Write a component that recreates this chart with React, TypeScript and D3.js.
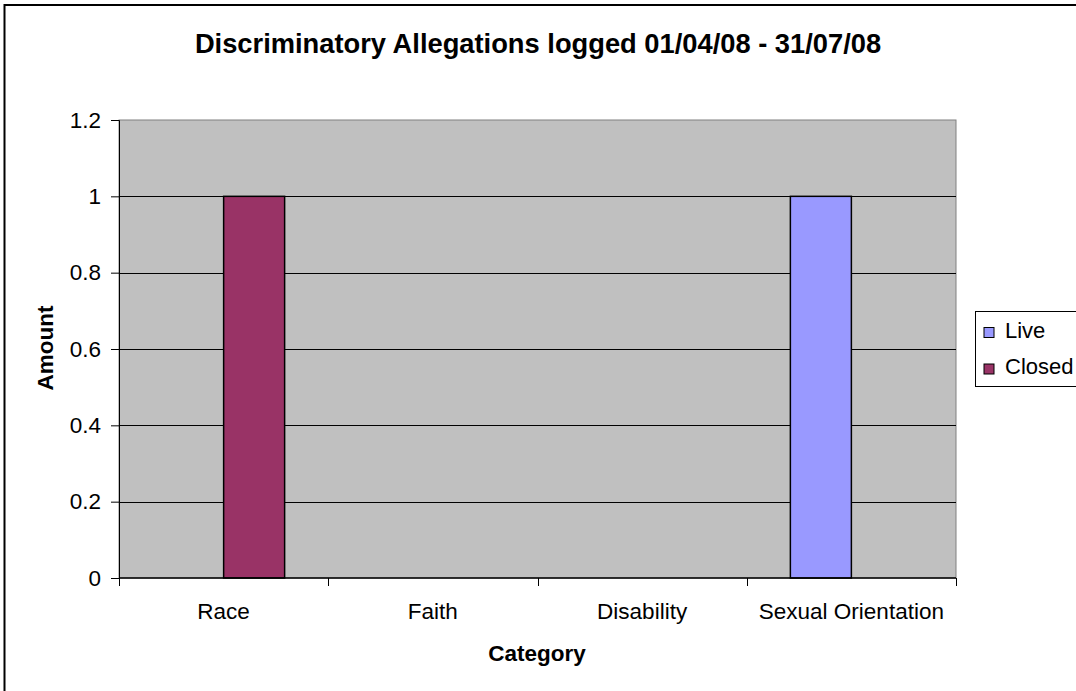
import React, { useEffect, useRef } from "react";
import * as d3 from "d3";

// chart data
const categories = ["Race", "Faith", "Disability", "Sexual Orientation"];
const seriesNames = ["Live", "Closed"];
const liveValues = [0, 0, 0, 1];
const closedValues = [1, 0, 0, 0];
const yTicks = [0, 0.2, 0.4, 0.6, 0.8, 1, 1.2];
const seriesColors = ["#9999FF", "#993366"];

const FONT = "'Liberation Sans', Arial, sans-serif";

const App: React.FC = () => {
  const svgRef = useRef<SVGSVGElement | null>(null);

  useEffect(() => {
    const width = 1076;
    const height = 691;
    const marginTop = 120;
    const marginBottom = 113;
    const marginLeft = 119;
    const marginRight = 120;

    const svg = d3.select(svgRef.current);
    svg.selectAll("*").remove();
    svg
      .attr("viewBox", [0, 0, width, height])
      .attr("width", width)
      .attr("height", height)
      .style("font-family", FONT);

    // outer chart border (continues past the crop)
    svg
      .append("rect")
      .attr("x", 4.5)
      .attr("y", 5)
      .attr("width", width + 20)
      .attr("height", height + 20)
      .attr("fill", "white")
      .attr("stroke", "black")
      .attr("stroke-width", 2);

    const x0 = d3
      .scaleBand()
      .domain(categories)
      .range([marginLeft, width - marginRight])
      .paddingInner(0)
      .paddingOuter(0);

    const x1 = d3
      .scaleBand()
      .domain(seriesNames)
      .range([0, x0.bandwidth()])
      .paddingInner(0)
      .paddingOuter(0.715);

    const y = d3
      .scaleLinear()
      .domain([0, 1.2])
      .range([height - marginBottom, marginTop]);

    // plot area
    svg
      .append("rect")
      .attr("x", marginLeft)
      .attr("y", y(1.2))
      .attr("width", width - marginRight - marginLeft)
      .attr("height", y(0) - y(1.2))
      .attr("fill", "#C0C0C0")
      .attr("stroke", "#808080")
      .attr("stroke-width", 1);

    // gridlines
    svg
      .append("g")
      .selectAll("line")
      .data(yTicks.filter((t) => t > 0 && t < 1.2))
      .enter()
      .append("line")
      .attr("x1", marginLeft)
      .attr("x2", width - marginRight)
      .attr("y1", (d) => Math.round(y(d)) + 0.5)
      .attr("y2", (d) => Math.round(y(d)) + 0.5)
      .attr("stroke", "black")
      .attr("stroke-width", 1);

    // bars
    const table = categories.map((c, i) => ({
      category: c,
      values: [liveValues[i], closedValues[i]],
    }));

    const groups = svg
      .append("g")
      .selectAll("g")
      .data(table)
      .enter()
      .append("g")
      .attr("transform", (d) => `translate(${x0(d.category)},0)`);

    groups
      .selectAll("rect")
      .data((d) => d.values.map((v, i) => ({ name: seriesNames[i], v, i })))
      .enter()
      .filter((d) => d.v > 0)
      .append("rect")
      .attr("x", (d) => x1(d.name) as number)
      .attr("y", (d) => y(d.v))
      .attr("width", x1.bandwidth())
      .attr("height", (d) => y(0) - y(d.v))
      .attr("fill", (d) => seriesColors[d.i])
      .attr("stroke", "black")
      .attr("stroke-width", 1.5);

    // y axis
    const gy = svg
      .append("g")
      .attr("transform", `translate(${marginLeft},0)`)
      .call(
        d3
          .axisLeft(y)
          .tickValues(yTicks)
          .tickSize(8)
          .tickPadding(10)
          .tickFormat(d3.format("~g") as any),
      );
    gy.select(".domain").attr("stroke", "black").attr("stroke-width", 1);
    gy.selectAll("line").attr("stroke", "black");
    gy.selectAll("text")
      .style("font-size", "22.5px")
      .style("font-family", FONT)
      .attr("fill", "black");

    // x axis (ticks at category boundaries)
    const xBase = y(0);
    svg
      .append("line")
      .attr("x1", marginLeft)
      .attr("x2", width - marginRight)
      .attr("y1", xBase)
      .attr("y2", xBase)
      .attr("stroke", "black")
      .attr("stroke-width", 1.5);

    const bounds = categories
      .map((c) => x0(c) as number)
      .concat([width - marginRight]);
    svg
      .append("g")
      .selectAll("line")
      .data(bounds)
      .enter()
      .append("line")
      .attr("x1", (d) => Math.round(d) + 0.5)
      .attr("x2", (d) => Math.round(d) + 0.5)
      .attr("y1", xBase)
      .attr("y2", xBase + 8)
      .attr("stroke", "black");

    svg
      .append("g")
      .selectAll("text")
      .data(categories)
      .enter()
      .append("text")
      .attr("x", (d) => (x0(d) as number) + x0.bandwidth() / 2)
      .attr("y", 619)
      .attr("text-anchor", "middle")
      .style("font-size", "22.5px")
      .text((d) => d);

    // titles
    svg
      .append("text")
      .attr("x", 538)
      .attr("y", 53)
      .attr("text-anchor", "middle")
      .style("font-size", "27.3px")
      .style("font-weight", "bold")
      .text("Discriminatory Allegations logged 01/04/08 - 31/07/08");

    svg
      .append("text")
      .attr("x", 537)
      .attr("y", 661)
      .attr("text-anchor", "middle")
      .style("font-size", "22.5px")
      .style("font-weight", "bold")
      .text("Category");

    svg
      .append("text")
      .attr("transform", `translate(53,348) rotate(-90)`)
      .attr("text-anchor", "middle")
      .style("font-size", "22.5px")
      .style("font-weight", "bold")
      .text("Amount");

    // legend
    const legend = svg.append("g");
    legend
      .append("rect")
      .attr("x", 975.5)
      .attr("y", 311.5)
      .attr("width", 200)
      .attr("height", 75)
      .attr("fill", "white")
      .attr("stroke", "black")
      .attr("stroke-width", 1);

    const items = legend
      .selectAll("g")
      .data(seriesNames)
      .enter()
      .append("g")
      .attr("transform", (_, i) => `translate(984,${327.5 + i * 36.5})`);
    items
      .append("rect")
      .attr("width", 10)
      .attr("height", 10)
      .attr("fill", (_, i) => seriesColors[i])
      .attr("stroke", "black")
      .attr("stroke-width", 1);
    items
      .append("text")
      .attr("x", 21)
      .attr("y", 10)
      .style("font-size", "22px")
      .text((d) => d);
  }, []);

  return (
    <svg
      ref={svgRef}
      style={{ position: "absolute", left: 0, top: 0, display: "block" }}
    ></svg>
  );
};

export default App;
